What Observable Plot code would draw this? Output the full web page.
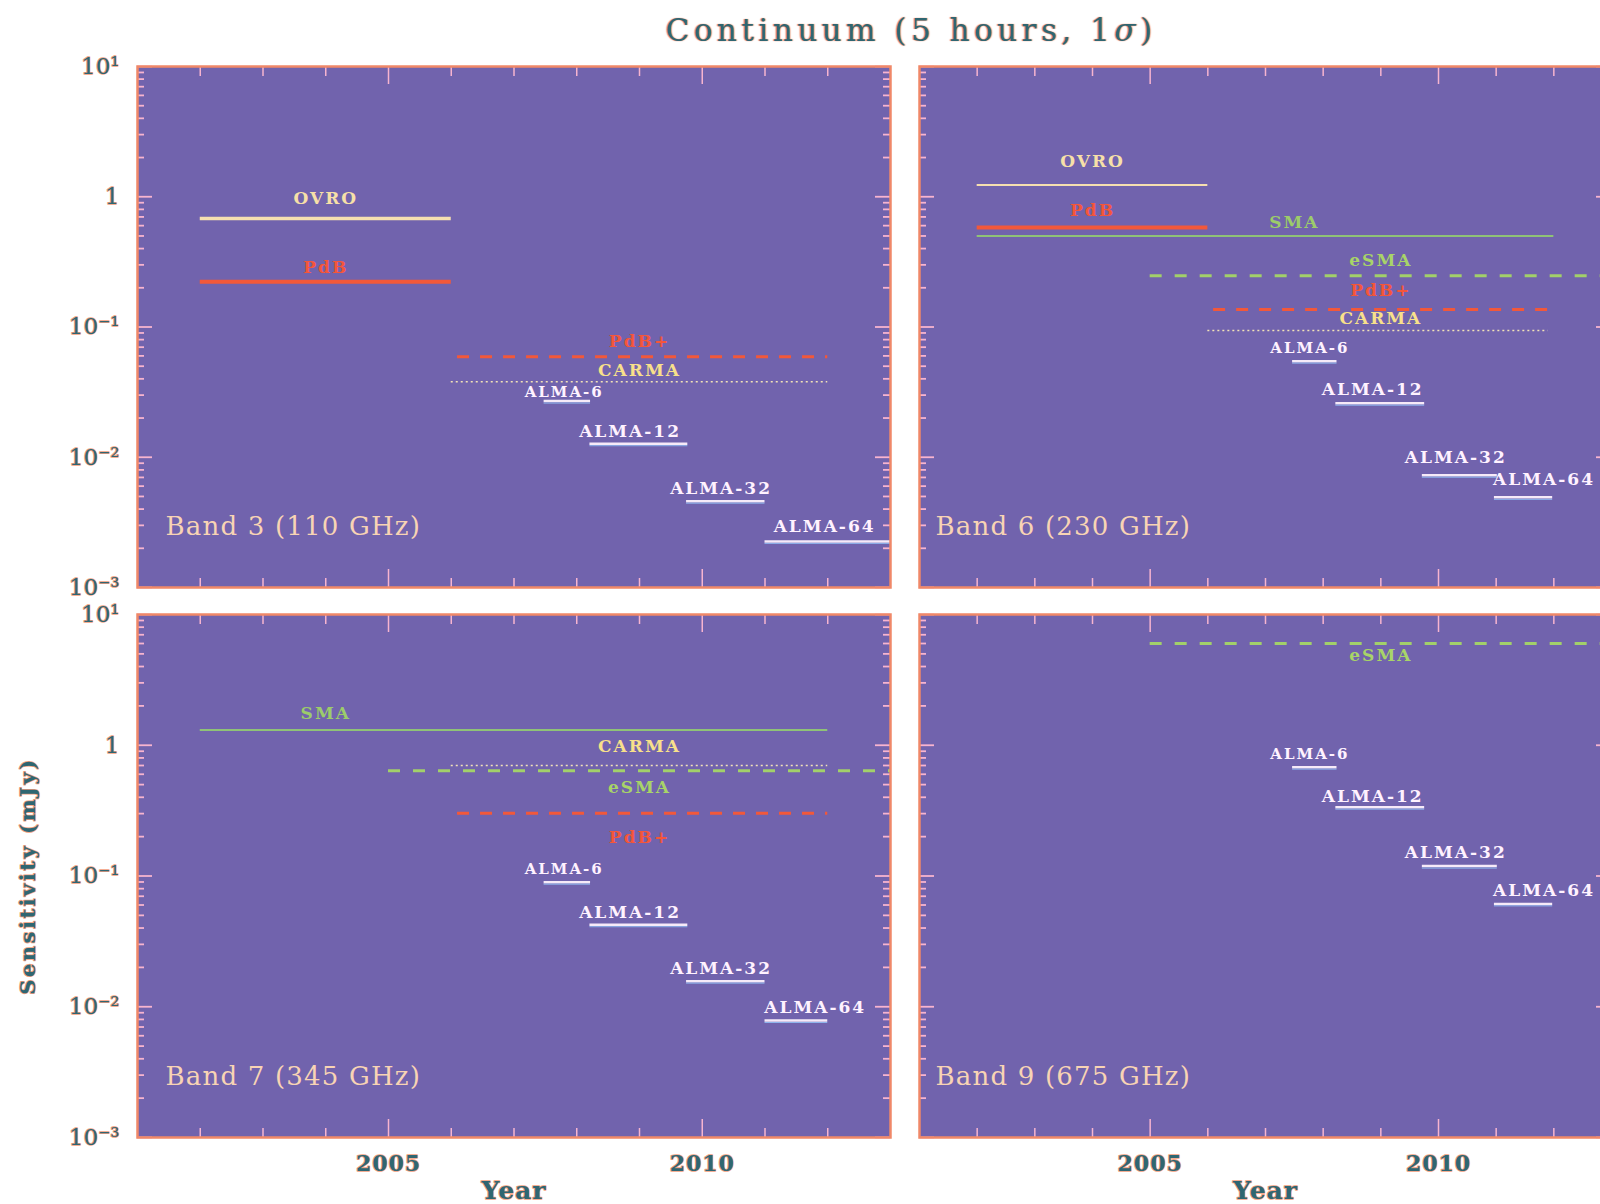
<!DOCTYPE html>
<html><head><meta charset="utf-8">
<script src="https://cdn.jsdelivr.net/npm/d3@7"></script>
<script src="https://cdn.jsdelivr.net/npm/@observablehq/plot@0.6"></script>
<style>
html,body{margin:0;padding:0;overflow:hidden;background:#fff;width:1600px;height:1204px}
#root{position:relative;width:1600px;height:1204px;overflow:hidden;background:#fff}
.panel{position:absolute}
.panel svg{overflow:visible;background:transparent;max-width:none !important;display:block}
#title{position:absolute;left:411px;width:1000px;top:15px;line-height:30px;text-align:center;font-family:"DejaVu Serif";font-size:31px;letter-spacing:4.5px;color:#2f6672;text-shadow:-1px 0 1px #f09070,1px 0 1px #f09070;white-space:nowrap}
text[aria-label="band-label"]{letter-spacing:1.2px}
text[aria-label="instrument-label"]{letter-spacing:2px}
text[aria-label="axis-title"]{letter-spacing:2.5px}
text[aria-label="x-label"]{letter-spacing:1px}
</style>
</head><body>
<div id="root"><div id="title">Continuum (5 hours, 1<i>σ</i>)</div></div>
<script>
// ---------------- data ----------------
const bandTitles = ["Band 3 (110 GHz)", "Band 6 (230 GHz)", "Band 7 (345 GHz)", "Band 9 (675 GHz)"];

const band3Names      = ["OVRO", "PdB", "PdB+", "CARMA", "ALMA-6", "ALMA-12", "ALMA-32", "ALMA-64"];
const band3Start      = [2002, 2002, 2006.1, 2006, 2007.48, 2008.21, 2009.75, 2011];
const band3End        = [2006, 2006, 2012, 2012, 2008.22, 2009.77, 2011, 2013];
const band3Value      = [0.68, 0.223, 0.059, 0.038, 0.027, 0.0127, 0.0046, 0.00226];
const band3LabelYear  = [2004, 2004, 2009, 2009, 2007.8, 2008.85, 2010.3, 2011.95];
const band3LabelValue = [0.966, 0.284, 0.078, 0.046, 0.0318, 0.0157, 0.0058, 0.00294];

const band6Names      = ["OVRO", "PdB", "SMA", "eSMA", "PdB+", "CARMA", "ALMA-6", "ALMA-12", "ALMA-32", "ALMA-64"];
const band6Start      = [2002, 2002, 2002, 2005, 2006.1, 2006, 2007.47, 2008.22, 2009.72, 2010.97];
const band6End        = [2006, 2006, 2012, 2013, 2011.9, 2011.9, 2008.24, 2009.76, 2011.02, 2011.98];
const band6Value      = [1.23, 0.58, 0.50, 0.247, 0.136, 0.094, 0.0547, 0.026, 0.00728, 0.00492];
const band6LabelYear  = [2004, 2004, 2007.5, 2009, 2009, 2009, 2007.77, 2008.86, 2010.3, 2011.83];
const band6LabelValue = [1.86, 0.79, 0.63, 0.326, 0.189, 0.117, 0.0689, 0.0332, 0.0100, 0.00673];

const band7Names      = ["SMA", "CARMA", "eSMA", "PdB+", "ALMA-6", "ALMA-12", "ALMA-32", "ALMA-64"];
const band7Start      = [2002, 2006, 2005, 2006.1, 2007.48, 2008.21, 2009.75, 2011];
const band7End        = [2012, 2012, 2013, 2012, 2008.22, 2009.77, 2011, 2012];
const band7Value      = [1.31, 0.70, 0.637, 0.302, 0.0897, 0.0424, 0.0157, 0.00785];
const band7LabelYear  = [2004, 2009, 2009, 2009, 2007.8, 2008.85, 2010.3, 2011.8];
const band7LabelValue = [1.75, 0.984, 0.477, 0.198, 0.112, 0.0524, 0.0196, 0.00993];

const band9Names      = ["eSMA", "ALMA-6", "ALMA-12", "ALMA-32", "ALMA-64"];
const band9Start      = [2005, 2007.47, 2008.22, 2009.72, 2010.97];
const band9End        = [2013, 2008.24, 2009.76, 2011.02, 2011.98];
const band9Value      = [6.0, 0.68, 0.336, 0.119, 0.0612];
const band9LabelYear  = [2009, 2007.77, 2008.86, 2010.3, 2011.83];
const band9LabelValue = [4.85, 0.861, 0.406, 0.150, 0.0775];

const xTickYears  = [2002, 2003, 2004, 2005, 2006, 2007, 2008, 2009, 2010, 2011, 2012];
const xMajorYears = [2005, 2010];
const xTickLabels = ["2005", "2010"];
const yTickValues = [10, 1, 0.1, 0.01, 0.001];
const yTickLabels = ["10¹", "1", "10⁻¹", "10⁻²", "10⁻³"];
const xAxisTitle = "Year";
const yAxisTitle = "Sensitivity (mJy)";

// ---------------- styles ----------------
const BG = "#7163ad";
const FRAME = "#f08868";
const TICK = "#f7b4cf";
const AXIS_FILL = "#2f6672";
const AXIS_HALO = "#f2a080";
const styleOf = {
  "OVRO":  {stroke: "#f6dfb0", width: 3.5, dash: null, label: "#f7e0a8"},
  "PdB":   {stroke: "#f2583a", width: 4, dash: null, label: "#f4563a"},
  "PdB+":  {stroke: "#f2583a", width: 3, dash: "12,11", label: "#f4563a"},
  "CARMA": {stroke: "#f2e2b8", width: 1.6, dash: "2,3", label: "#f8e08a"},
  "SMA":   {stroke: "#8fc277", width: 2, dash: null, label: "#9ccc6a"},
  "eSMA":  {stroke: "#a2d06a", width: 3, dash: "12,13", label: "#a8d468"},
  "ALMA":  {stroke: "#f6eaf8", width: 2.5, dash: null, label: "#fff2ff"}
};
const kindOf = n => n.startsWith("ALMA") ? "ALMA" : n;

const minorYears = xTickYears.filter(y => !xMajorYears.includes(y));
const minorY = [];
for (let k = -3; k <= 0; k++) for (let m = 2; m <= 9; m++) minorY.push(m * Math.pow(10, k));

function panel({names, start, end, value, labelYear, labelValue, title, left, top, width, height, mt, mb, ml, mr, showY, showX, showYTitle, bandDx, oneBand6}) {
  const rows = names.map((n, i) => ({name: n, start: start[i], end: end[i], value: value[i], lx: labelYear[i], lv: labelValue[i]}));
  const H = height - mt - mb, W = width - ml - mr;
  const marks = [Plot.frame({fill: BG})];
  for (const r of rows) {
    const s = styleOf[kindOf(r.name)];
    let w = s.width;
    if (oneBand6 && r.name === "OVRO") w = 2;
    marks.push(Plot.ruleY([r], {y: "value", x1: "start", x2: "end", stroke: s.stroke, strokeWidth: w, strokeDasharray: s.dash}));
    if (kindOf(r.name) === "ALMA") {
      marks.push(Plot.ruleY([r], {y: "value", x1: "start", x2: "end", stroke: "#8fb6ee", strokeWidth: 1, dy: 2}));
    }
  }
  for (const r of rows) {
    const s = styleOf[kindOf(r.name)];
    marks.push(Plot.text([r], {x: "lx", y: "lv", text: "name", fill: s.label, fontFamily: "DejaVu Serif", fontWeight: "bold",
      fontSize: r.name === "ALMA-6" ? 15 : 17, ariaLabel: () => "instrument-label"}));
  }
  marks.push(Plot.text([title], {frameAnchor: "bottom-left", dx: bandDx, dy: -61, lineAnchor: "middle", textAnchor: "start",
    fill: "#f8d4b4", fontFamily: "DejaVu Serif", fontSize: 26, ariaLabel: () => "band-label"}));
  // ticks (inside the frame)
  marks.push(Plot.tickX(minorYears, {x: d => d, stroke: TICK, strokeWidth: 1.5, insetBottom: H - 10}));
  marks.push(Plot.tickX(xMajorYears, {x: d => d, stroke: TICK, strokeWidth: 1.5, insetBottom: H - 18}));
  marks.push(Plot.tickX(minorYears, {x: d => d, stroke: TICK, strokeWidth: 1.5, insetTop: H - 9}));
  marks.push(Plot.tickX(xMajorYears, {x: d => d, stroke: TICK, strokeWidth: 1.5, insetTop: H - 18}));
  marks.push(Plot.tickY(minorY, {y: d => d, stroke: TICK, strokeWidth: 1.8, insetRight: W - 7}));
  marks.push(Plot.tickY(yTickValues, {y: d => d, stroke: TICK, strokeWidth: 1.8, insetRight: W - 15}));
  marks.push(Plot.tickY(minorY, {y: d => d, stroke: TICK, strokeWidth: 1.8, insetLeft: W - 7}));
  marks.push(Plot.tickY(yTickValues, {y: d => d, stroke: TICK, strokeWidth: 1.8, insetLeft: W - 15}));
  marks.push(Plot.frame({stroke: FRAME, strokeWidth: 2.5}));
  const axisText = {fill: AXIS_FILL, stroke: AXIS_HALO, strokeWidth: 1.6, fontFamily: "DejaVu Serif"};
  if (showY) {
    marks.push(Plot.text(yTickValues, {y: d => d, text: (d, i) => yTickLabels[i], frameAnchor: "left", textAnchor: "end", dx: -18,
      lineAnchor: "middle", fontSize: 23, ...axisText}));
  }
  if (showX) {
    marks.push(Plot.text(xMajorYears, {x: d => d, text: (d, i) => xTickLabels[i], frameAnchor: "bottom", dy: 26, lineAnchor: "middle",
      fontSize: 22, fontWeight: "bold", ariaLabel: () => "x-label", ...axisText}));
    marks.push(Plot.text([xAxisTitle], {frameAnchor: "bottom", dy: 53, lineAnchor: "middle", fontSize: 25, fontWeight: "bold",
      ariaLabel: () => "x-label", ...axisText}));
  }
  if (showYTitle) {
    marks.push(Plot.text([yAxisTitle], {frameAnchor: "left", dx: -109, rotate: -90, textAnchor: "middle", lineAnchor: "middle",
      fontSize: 21, fontWeight: "bold", ariaLabel: () => "axis-title", ...axisText}));
  }
  const svg = Plot.plot({
    width, height, marginTop: mt, marginBottom: mb, marginLeft: ml, marginRight: mr,
    x: {domain: [2001, 2013], axis: null},
    y: {type: "log", domain: [1e-3, 10], axis: null},
    style: {background: "transparent", overflow: "visible", maxWidth: "none"},
    marks
  });
  const div = document.createElement("div");
  div.className = "panel";
  div.style.left = left + "px";
  div.style.top = top + "px";
  div.style.width = width + "px";
  div.style.height = height + "px";
  div.appendChild(svg);
  document.getElementById("root").appendChild(div);
}

panel({names: band3Names, start: band3Start, end: band3End, value: band3Value, labelYear: band3LabelYear, labelValue: band3LabelValue,
  title: bandTitles[0], left: 0, top: 0, width: 904, height: 602, mt: 66, mb: 15, ml: 137, mr: 14, showY: true, showX: false, bandDx: 28});
panel({names: band6Names, start: band6Start, end: band6End, value: band6Value, labelYear: band6LabelYear, labelValue: band6LabelValue,
  title: bandTitles[1], left: 904, top: 0, width: 720, height: 602, mt: 66, mb: 15, ml: 15, mr: 13, showY: false, showX: false, bandDx: 16, oneBand6: true});
panel({names: band7Names, start: band7Start, end: band7End, value: band7Value, labelYear: band7LabelYear, labelValue: band7LabelValue,
  title: bandTitles[2], left: 0, top: 602, width: 904, height: 602, mt: 12, mb: 67, ml: 137, mr: 14, showY: true, showX: true, showYTitle: true, bandDx: 28});
panel({names: band9Names, start: band9Start, end: band9End, value: band9Value, labelYear: band9LabelYear, labelValue: band9LabelValue,
  title: bandTitles[3], left: 904, top: 602, width: 720, height: 602, mt: 12, mb: 67, ml: 15, mr: 13, showY: false, showX: true, bandDx: 16});
</script>
</body></html>
